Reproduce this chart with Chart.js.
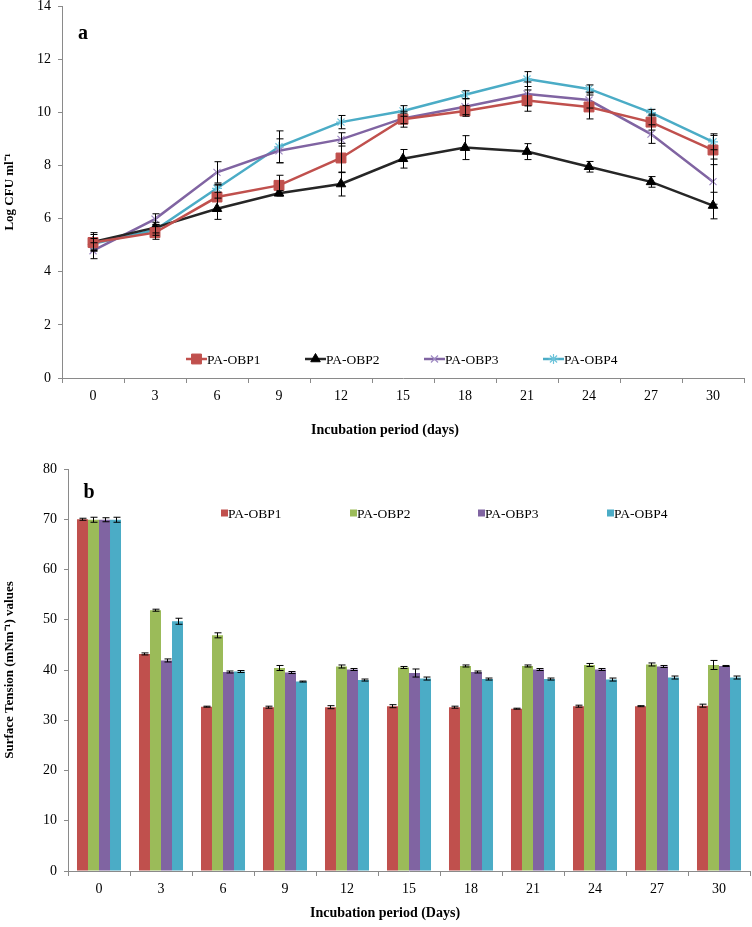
<!DOCTYPE html>
<html>
<head>
<meta charset="utf-8">
<script src="https://cdn.jsdelivr.net/npm/chart.js@4.4.1/dist/chart.umd.min.js"></script>
<style>
  body { margin: 0; background: #fff; }
  #wrap { position: relative; width: 752px; height: 927px; overflow: hidden; }
  .box { position: absolute; left: 0; width: 752px; }
  #boxA { top: -8px; height: 455px; }
  #boxB { top: 445px; height: 482px; }
</style>
</head>
<body>
<div id="wrap">
  <div class="box" id="boxA"><canvas id="chartA"></canvas></div>
  <div class="box" id="boxB"><canvas id="chartB"></canvas></div>
</div>
<script>
// Shared x categories (incubation days)
const days = ['0', '3', '6', '9', '12', '15', '18', '21', '24', '27', '30'];
const seriesNames = ['PA-OBP1', 'PA-OBP2', 'PA-OBP3', 'PA-OBP4'];

// Panel a: Log CFU ml-1
const cfu1 = [5.1, 5.47, 6.81, 7.25, 8.28, 9.74, 10.05, 10.44, 10.2, 9.63, 8.58];
const cfu2 = [5.12, 5.66, 6.37, 6.95, 7.3, 8.25, 8.67, 8.52, 7.95, 7.38, 6.49];
const cfu3 = [4.79, 5.98, 7.74, 8.55, 8.98, 9.77, 10.21, 10.69, 10.46, 9.18, 7.39];
const cfu4 = [5.05, 5.57, 7.14, 8.7, 9.63, 10.05, 10.66, 11.25, 10.88, 9.99, 8.89];
const cfuErr1 = [0.3, 0.25, 0.45, 0.38, 0.55, 0.3, 0.2, 0.4, 0.45, 0.3, 0.55];
const cfuErr2 = [0.35, 0.2, 0.4, 0.1, 0.45, 0.35, 0.45, 0.3, 0.2, 0.2, 0.5];
const cfuErr3 = [0.3, 0.2, 0.4, 0.45, 0.25, 0.2, 0.3, 0.45, 0.3, 0.35, 0.85];
const cfuErr4 = [0.2, 0.2, 0.15, 0.6, 0.25, 0.2, 0.15, 0.28, 0.15, 0.12, 0.3];
const cfuTicks = { min: 0, max: 14, step: 2 };

// Panel b: surface tension (mNm-1)
const st1 = [70.0, 43.2, 32.7, 32.6, 32.6, 32.8, 32.6, 32.3, 32.8, 32.8, 32.9];
const st2 = [69.9, 51.9, 46.9, 40.4, 40.7, 40.5, 40.8, 40.8, 41.0, 41.1, 41.0];
const st3 = [69.9, 41.9, 39.6, 39.5, 40.1, 39.4, 39.6, 40.1, 40.1, 40.7, 40.8];
const st4 = [69.9, 49.7, 39.7, 37.7, 38.0, 38.3, 38.2, 38.2, 38.1, 38.5, 38.5];
const stErr1 = [0.2, 0.2, 0.1, 0.2, 0.3, 0.3, 0.2, 0.1, 0.2, 0.1, 0.3];
const stErr2 = [0.5, 0.2, 0.5, 0.5, 0.3, 0.2, 0.2, 0.2, 0.3, 0.3, 0.9];
const stErr3 = [0.4, 0.3, 0.2, 0.2, 0.2, 0.8, 0.2, 0.2, 0.2, 0.2, 0.1];
const stErr4 = [0.5, 0.6, 0.2, 0.1, 0.2, 0.3, 0.2, 0.2, 0.3, 0.3, 0.3];
const stTicks = { min: 0, max: 80, step: 10 };

const lineColors = ['#C0504D', '#262626', '#8064A2', '#4BACC6'];
const barColors = ['#C0504D', '#9BBB59', '#8064A2', '#4BACC6'];
const FONT = "'Liberation Serif', 'Times New Roman', serif";
const AXIS = '#8a8a8a';

// vertical error bars with caps, drawn on top of the datasets
const errorBars = {
    id: 'errorBars',
    afterDatasetsDraw(chart) {
        const { ctx } = chart;
        const yScale = chart.scales.y;
        ctx.save();
        ctx.strokeStyle = '#000';
        ctx.lineWidth = 1;
        chart.data.datasets.forEach((ds, di) => {
            const meta = chart.getDatasetMeta(di);
            (ds.errors || []).forEach((e, i) => {
                const el = meta.data[i];
                if (!el || !e) return;
                const x = Math.round(el.x) + 0.5;
                const top = yScale.getPixelForValue(ds.data[i] + e);
                const bot = yScale.getPixelForValue(ds.data[i] - e);
                ctx.beginPath();
                ctx.moveTo(x, top); ctx.lineTo(x, bot);
                ctx.moveTo(x - 3, top); ctx.lineTo(x + 4, top);
                ctx.moveTo(x - 3, bot); ctx.lineTo(x + 4, bot);
                ctx.stroke();
            });
        });
        ctx.restore();
    }
};

// panel letter, x title and in-plot legend
const decorations = {
    id: 'decorations',
    afterDraw(chart, args, opts) {
        const { ctx } = chart;
        ctx.save();
        ctx.fillStyle = '#000';
        ctx.textBaseline = 'middle';

        ctx.font = 'bold 20px ' + FONT;
        ctx.textAlign = 'center';
        ctx.fillText(opts.letter, opts.letterX, opts.letterY);

        ctx.font = 'bold 14px ' + FONT;
        ctx.fillText(opts.xTitle, opts.xTitleX, opts.xTitleY);

        ctx.font = '13.5px ' + FONT;
        ctx.textAlign = 'left';
        chart.data.datasets.forEach((ds, i) => {
            const x = opts.legendX[i];
            const y = opts.legendY;
            if (opts.kind === 'line') {
                ctx.strokeStyle = ds.borderColor;
                ctx.lineWidth = 2.5;
                ctx.beginPath();
                ctx.moveTo(x, y); ctx.lineTo(x + 21, y);
                ctx.stroke();
                ctx.fillStyle = ds.pointBackgroundColor;
                ctx.strokeStyle = ds.pointBorderColor;
                ctx.lineWidth = ds.pointBorderWidth;
                Chart.helpers.drawPoint(ctx, {
                    pointStyle: ds.pointStyle,
                    radius: ds.pointRadius,
                    rotation: 0,
                    borderWidth: ds.pointBorderWidth
                }, x + 10.5, y);
                ctx.fillStyle = '#000';
                ctx.fillText(ds.label, x + 21, y + 1);
            } else {
                ctx.fillStyle = ds.backgroundColor;
                ctx.fillRect(x, y - 3.5, 7, 7);
                ctx.fillStyle = '#000';
                ctx.fillText(ds.label, x + 7, y + 1);
            }
        });
        ctx.restore();
    }
};

function axisOptions(ticks, yTitle, yWidth, xHeight) {
    return {
        x: {
            offset: true,
            border: { color: AXIS, width: 1 },
            grid: { offset: true, drawOnChartArea: false, drawTicks: true, tickLength: 5, color: AXIS },
            ticks: { color: '#000', font: { family: FONT, size: 14 }, padding: 5, maxRotation: 0 },
            afterFit: s => { s.height = xHeight; }
        },
        y: {
            min: ticks.min,
            max: ticks.max,
            border: { color: AXIS, width: 1 },
            grid: { drawOnChartArea: false, drawTicks: true, tickLength: 4, color: AXIS },
            ticks: { stepSize: ticks.step, color: '#000', font: { family: FONT, size: 14, lineHeight: 1 }, padding: 7 },
            title: {
                display: true,
                text: yTitle,
                color: '#000',
                font: { family: FONT, size: 13, weight: 'bold' },
                padding: { top: 2, bottom: 2 }
            },
            afterFit: s => { s.width = yWidth; }
        }
    };
}

function lineSet(label, data, errors, color, style, radius, pointColor, borderW) {
    return {
        label, data, errors,
        borderColor: color,
        borderWidth: 2.5,
        tension: 0,
        fill: false,
        pointStyle: style,
        pointRadius: radius,
        pointHoverRadius: radius,
        pointBackgroundColor: pointColor,
        pointBorderColor: pointColor,
        pointBorderWidth: borderW
    };
}

new Chart(document.getElementById('chartA'), {
    type: 'line',
    data: {
        labels: days,
        datasets: [
            lineSet(seriesNames[0], cfu1, cfuErr1, lineColors[0], 'rect', 7, lineColors[0], 1),
            lineSet(seriesNames[1], cfu2, cfuErr2, lineColors[1], 'triangle', 5.5, '#000', 1),
            lineSet(seriesNames[2], cfu3, cfuErr3, lineColors[2], 'crossRot', 5, '#A08CC4', 1.2),
            lineSet(seriesNames[3], cfu4, cfuErr4, lineColors[3], 'star', 5, '#6CC3DA', 1.2)
        ]
    },
    options: {
        responsive: true,
        maintainAspectRatio: false,
        animation: false,
        layout: { padding: { left: 0, right: 7, top: 0, bottom: 0 } },
        scales: axisOptions(cfuTicks, 'Log CFU ml\u207B\u00B9', 62, 69),
        plugins: {
            legend: { display: false },
            tooltip: { enabled: false },
            decorations: {
                letter: 'a', letterX: 83, letterY: 42,
                xTitle: 'Incubation period (days)', xTitleX: 385, xTitleY: 438,
                kind: 'line', legendX: [186, 305, 424, 543], legendY: 367
            }
        }
    },
    plugins: [errorBars, decorations]
});

new Chart(document.getElementById('chartB'), {
    type: 'bar',
    data: {
        labels: days,
        datasets: [
            { label: seriesNames[0], data: st1, errors: stErr1, backgroundColor: barColors[0] },
            { label: seriesNames[1], data: st2, errors: stErr2, backgroundColor: barColors[1] },
            { label: seriesNames[2], data: st3, errors: stErr3, backgroundColor: barColors[2] },
            { label: seriesNames[3], data: st4, errors: stErr4, backgroundColor: barColors[3] }
        ]
    },
    options: {
        responsive: true,
        maintainAspectRatio: false,
        animation: false,
        datasets: { bar: { categoryPercentage: 0.71, barPercentage: 1.0 } },
        layout: { padding: { left: 0, right: 2, top: 24, bottom: 0 } },
        scales: axisOptions(stTicks, 'Surface Tension (mNm\u207B\u00B9) values', 68, 56),
        plugins: {
            legend: { display: false },
            tooltip: { enabled: false },
            decorations: {
                letter: 'b', letterX: 89, letterY: 48,
                xTitle: 'Incubation period (Days)', xTitleX: 385, xTitleY: 468,
                kind: 'box', legendX: [221, 350, 478, 607], legendY: 68
            }
        }
    },
    plugins: [errorBars, decorations]
});
</script>
</body>
</html>
